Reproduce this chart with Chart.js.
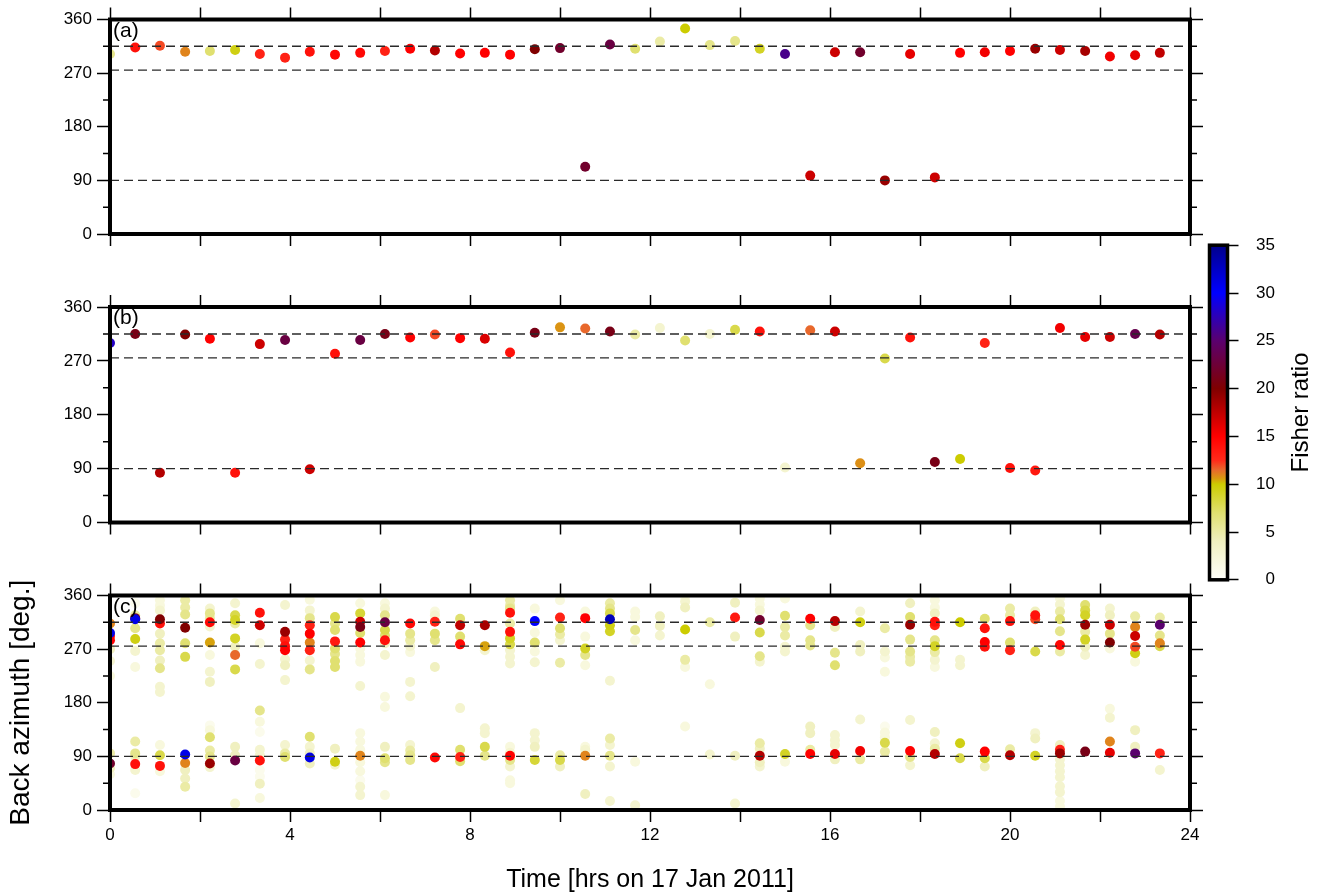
<!DOCTYPE html>
<html>
<head>
<meta charset="utf-8">
<script src="https://cdn.jsdelivr.net/npm/chart.js@4.4.0/dist/chart.umd.min.js"></script>
<style>
  html, body { margin: 0; padding: 0; background: #fff; }
  #wrap { position: relative; width: 1325px; height: 896px; overflow: hidden; }
  canvas { position: absolute; }
</style>
</head>
<body>
<div id="wrap">
  <canvas id="panelA" width="1210" height="262" style="left:0;top:0"></canvas>
  <canvas id="panelB" width="1210" height="262" style="left:0;top:280px"></canvas>
  <canvas id="panelC" width="1210" height="326" style="left:0;top:570px"></canvas>
  <canvas id="cbar" width="130" height="375" style="left:1195px;top:225px"></canvas>
</div>
<script>
// window centre times (hrs), one analysis window every ~33 min
const windowHours = [0, 0.56, 1.11, 1.67, 2.22, 2.78, 3.33, 3.89, 4.44, 5.0, 5.56, 6.11, 6.67, 7.22, 7.78,
  8.33, 8.89, 9.44, 10.0, 10.56, 11.11, 11.67, 12.22, 12.78, 13.33, 13.89, 14.44, 15.0, 15.56,
  16.11, 16.67, 17.22, 17.78, 18.33, 18.89, 19.44, 20.0, 20.56, 21.11, 21.67, 22.22, 22.78, 23.33];

// (a) back azimuth + Fisher ratio, one per window
const bazA = [302, 313, 316, 306, 307, 309, 302, 296, 306, 301, 304, 307, 311, 308, 303, 304, 301, 310,
  312, 113, 318, 311, 323, 345, 317, 324, 311, 302, 98, 305, 305, 90, 302, 95, 304, 305, 307, 311,
  309, 307, 298, 300, 304];
const fisherA = [6, 14, 12, 11, 7, 9.5, 13, 13, 14, 14.5, 14.5, 13, 15, 18, 15, 15, 15, 20, 22, 22, 23,
  7, 5, 10, 6, 6, 9, 26, 17, 17, 22, 19, 16, 17, 15, 15.5, 15, 19, 17, 18.5, 15.5, 16, 17.5];

// (b)
const bazB = [300, 315, 83, 314, 307, 83, 298, 305, 89, 282, 305, 315, 309, 314, 308, 307, 284, 317,
  326, 324, 319, 314, 325, 304, 315, 322, 319, 92, 321, 319, 99, 274, 309, 101, 106, 300, 91, 87,
  325, 310, 310, 315, 314];
const fisherB = [28, 21, 18, 20, 15, 14, 17, 23, 17, 14, 23, 21, 15, 12, 15, 16.5, 14, 21, 10.7, 11.5,
  21, 5, 3, 7, 3, 8, 14, 3, 11.5, 17, 10.8, 8, 14, 21, 10, 13, 14, 13.5, 15.5, 16, 17, 23.5, 18];

// (c) many estimates per window
const bazC = [
  [313, 297, 285, 292, 270, 250, 225, 78, 95, 70, 60],
  [347, 327, 320, 322, 305, 287, 267, 240, 115, 95, 90, 77, 67, 28],
  [352, 343, 335, 320, 313, 296, 280, 268, 251, 238, 207, 198, 109, 92, 74, 65],
  [352, 340, 328, 306, 280, 257, 93, 79, 67, 53, 39],
  [338, 330, 322, 315, 308, 281, 260, 232, 215, 142, 134, 122, 100, 90, 78, 72],
  [347, 327, 319, 313, 288, 274, 260, 236, 106, 92, 83, 11],
  [331, 310, 280, 245, 167, 148, 131, 101, 92, 83, 67, 56, 44, 20],
  [344, 299, 286, 275, 268, 253, 243, 218, 109, 95, 89],
  [353, 335, 322, 310, 296, 281, 268, 251, 236, 123, 106, 95, 88, 78],
  [324, 313, 302, 283, 271, 262, 250, 240, 103, 81, 76],
  [347, 330, 316, 307, 297, 281, 271, 260, 249, 208, 129, 115, 101, 91, 80, 65, 50, 39, 25],
  [347, 338, 327, 315, 302, 293, 285, 280, 260, 190, 173, 106, 87, 80, 25],
  [313, 296, 285, 275, 265, 215, 191, 109, 100, 92, 84],
  [333, 327, 316, 296, 285, 240, 88],
  [321, 310, 291, 278, 171, 101, 82, 89],
  [310, 275, 268, 137, 129, 106, 91],
  [352, 343, 338, 331, 313, 299, 288, 278, 268, 257, 246, 106, 96, 84, 73, 91, 50, 45],
  [338, 317, 298, 281, 266, 248, 129, 117, 106, 84],
  [352, 323, 305, 295, 285, 247, 92, 84, 73],
  [333, 322, 291, 271, 260, 243, 106, 101, 91, 27],
  [347, 338, 330, 320, 310, 300, 217, 120, 109, 91, 73, 15],
  [333, 324, 302, 285, 81, 8],
  [325, 309, 293],
  [358, 350, 340, 303, 252, 240, 140],
  [315, 211, 93],
  [348, 323, 291, 91, 11],
  [355, 345, 335, 319, 298, 258, 249, 112, 103, 80, 73, 91],
  [355, 326, 307, 293, 274, 266, 94, 81],
  [321, 310, 285, 276, 140, 129, 101, 94],
  [317, 307, 264, 243, 126, 117, 109, 94, 85],
  [333, 315, 277, 266, 152, 99, 85],
  [305, 266, 256, 232, 140, 130, 122, 113, 98],
  [347, 324, 311, 286, 266, 257, 249, 151, 99, 89, 75],
  [352, 340, 330, 316, 310, 285, 275, 265, 252, 240, 131, 112, 103, 94],
  [315, 252, 243, 112, 87],
  [321, 305, 282, 274, 98, 87, 73],
  [338, 327, 317, 281, 268, 102, 92],
  [333, 327, 320, 266, 129, 120, 91],
  [355, 345, 333, 320, 300, 277, 266, 109, 101, 95, 85, 75, 65, 55, 40, 30, 15, 6],
  [344, 335, 327, 311, 299, 286, 274, 260, 98],
  [338, 327, 311, 296, 281, 271, 170, 155, 115, 96],
  [325, 307, 292, 274, 263, 249, 134, 106, 95],
  [323, 311, 293, 280, 275, 95, 67]
];
const fisherC = [
  [11, 31, 15, 14, 4, 3, 2, 22, 5, 4, 2],
  [1, 5, 31, 21, 6, 9.5, 3, 2, 5, 6, 4, 14, 3, 1],
  [2, 2, 3, 20, 14, 4, 5, 5, 4, 6, 3, 3, 2, 8, 14, 2],
  [5, 5, 6, 20, 7, 8, 31, 11, 4, 4, 5],
  [3, 6, 5, 14.5, 3, 10.5, 2, 3, 4, 1, 2, 7, 5, 6, 19, 3],
  [3, 8, 9, 5, 9, 4, 11.5, 8, 4, 4, 23, 3],
  [14, 17, 2, 3, 6, 2, 1, 3, 3, 14, 1, 1, 4, 2],
  [3, 19, 13, 14, 15, 3, 4, 3, 3, 5, 7],
  [2, 3, 6, 13, 15, 11, 13, 3, 6, 7, 3, 4, 31, 4],
  [8, 6, 7, 13.5, 7, 6, 7, 7, 4, 9.5, 3],
  [2, 8.5, 17, 21, 7, 15, 2, 2, 2, 3, 2, 2, 2, 11, 2, 2, 1, 3, 3],
  [2, 3, 6, 23, 8, 7, 14, 4, 3, 2, 2, 4, 7, 6, 2],
  [14.5, 6, 5, 3, 2, 3, 3, 3, 5, 6, 6],
  [2, 3, 13, 7, 6, 4, 14.5],
  [7, 17.5, 7, 14.5, 3, 7, 7, 13],
  [18.5, 10.5, 3, 3, 3, 8, 6],
  [5, 5, 6, 14, 5, 14, 9, 8, 3, 3, 3, 2, 3, 6, 3, 15, 2, 2],
  [2, 30, 2, 7, 2, 3, 3, 3, 4, 8.5],
  [2, 13, 7, 5, 3, 5, 5, 8, 4],
  [2, 15, 2, 9, 6, 2, 2, 3, 11, 4],
  [5, 6, 8, 33, 9.5, 9, 3, 5, 3, 6, 3, 3],
  [2, 2, 6, 2, 2, 3],
  [4, 4, 3],
  [2, 3, 4, 10, 5, 2, 2],
  [5, 2, 3],
  [4, 13.5, 4, 4, 3],
  [2, 2, 3, 22, 8, 6, 3, 5, 4, 4, 3, 18],
  [2, 7, 5, 5, 3, 3, 9, 2],
  [15, 6, 6, 6, 4, 4, 5, 15],
  [18, 4, 6, 7, 3, 3, 3, 16, 4],
  [3, 9.5, 4, 4, 3, 15.5, 5],
  [5, 3, 2, 2, 1, 2, 2, 8, 5],
  [4, 7, 19, 6, 6, 5, 5, 3, 15, 6, 3],
  [2, 2, 4, 14, 13, 6, 9, 5, 3, 2, 4, 3, 5, 18],
  [10, 3, 3, 9.5, 8],
  [7, 14, 15, 14, 15, 8, 4],
  [5, 5, 14, 7, 13, 5, 18],
  [4, 14, 12, 8, 3, 4, 9],
  [2, 3, 5, 7, 6, 14.5, 5, 4, 13, 19, 3, 3, 3, 3, 3, 3, 2, 2],
  [7, 8, 9, 19, 5, 9, 4, 3, 21],
  [3, 4, 17, 6, 20, 2, 2, 3, 11, 16],
  [5, 11, 17, 12, 9.5, 2, 4, 4, 25],
  [5, 25, 6, 11, 8, 13, 3]
];

// dashed reference azimuths
const refBaz = [315, 275, 90];
const yMinorTicks = [45, 135, 225, 315];

// colour scale for Fisher ratio
const cmapStops = [0, 4, 7, 10, 10.6, 11.5, 12.5, 15, 20, 25, 30, 35];
const cmapColors = ['#fffffa', '#f0f0c0', '#e0e070', '#cccc00', '#d99a10', '#e8682c', '#ff2a1a',
  '#ff0000', '#800000', '#5a006e', '#0000ff', '#00008a'];

const FONT = "'Liberation Sans', Arial, Helvetica, sans-serif";
Chart.defaults.font.family = FONT;
Chart.defaults.color = '#000';

function hexRgb(h) {
  return [parseInt(h.substr(1, 2), 16), parseInt(h.substr(3, 2), 16), parseInt(h.substr(5, 2), 16)];
}

function fisherColor(f) {
  if (f <= cmapStops[0]) return cmapColors[0];
  for (let k = 1; k < cmapStops.length; k++) {
    if (f <= cmapStops[k]) {
      const t = (f - cmapStops[k - 1]) / (cmapStops[k] - cmapStops[k - 1]);
      const a = hexRgb(cmapColors[k - 1]), b = hexRgb(cmapColors[k]);
      const c = a.map((v, j) => Math.round(v + (b[j] - v) * t));
      return `rgb(${c[0]},${c[1]},${c[2]})`;
    }
  }
  return cmapColors[cmapColors.length - 1];
}

// frame, minor ticks and panel letter on top of the points
const framePlugin = {
  id: 'frame',
  afterDatasetsDraw(chart, args, opts) {
    const { ctx, chartArea: a, scales } = chart;
    ctx.save();
    ctx.strokeStyle = '#000';
    ctx.lineWidth = 1.5;
    yMinorTicks.forEach(v => {
      const y = scales.y.getPixelForValue(v);
      ctx.beginPath();
      ctx.moveTo(a.left - 7, y); ctx.lineTo(a.left, y);
      ctx.moveTo(a.right, y); ctx.lineTo(a.right + 7, y);
      ctx.stroke();
    });
    ctx.lineWidth = 4;
    ctx.strokeRect(a.left, a.top, a.right - a.left, a.bottom - a.top);
    ctx.fillStyle = '#000';
    ctx.font = '21px ' + FONT;
    ctx.textBaseline = 'top';
    ctx.textAlign = 'left';
    ctx.fillText(opts.label, a.left + 3, a.top + 1);
    ctx.restore();
  }
};

function tickGrid(len) {
  return { drawOnChartArea: false, drawTicks: true, tickLength: len, tickWidth: 1.5, tickColor: '#000' };
}

function makePanel(id, label, points, topH, bottomH, isLast) {
  points.sort((p, q) => p.f - q.f);
  const datasets = [{
    data: points,
    pointRadius: 5,
    pointHoverRadius: 5,
    pointBorderWidth: 0,
    backgroundColor: c => fisherColor(c.raw.f),
    clip: 0,
    order: 1
  }];
  refBaz.forEach(v => {
    datasets.push({
      data: [{ x: 0, y: v }, { x: 24, y: v }],
      showLine: true,
      pointRadius: 0,
      borderColor: '#2a2a2a',
      borderWidth: 1.4,
      borderDash: [9, 5],
      order: 0
    });
  });
  new Chart(document.getElementById(id), {
    type: 'scatter',
    data: { datasets },
    options: {
      responsive: false,
      animation: false,
      events: [],
      layout: { padding: 0 },
      plugins: { legend: { display: false }, tooltip: { enabled: false }, frame: { label } },
      scales: {
        x: {
          type: 'linear', position: 'bottom', min: 0, max: 24,
          ticks: {
            stepSize: 2, autoSkip: false, maxRotation: 0, padding: 3, font: { size: 17 },
            callback: v => (isLast && v % 4 === 0) ? String(v) : ''
          },
          grid: tickGrid(12),
          border: { display: false },
          title: {
            display: isLast, text: 'Time [hrs on 17 Jan 2011]', font: { size: 25 },
            padding: { top: 0, bottom: 1 }
          },
          afterFit: s => { s.height = bottomH; }
        },
        x2: {
          type: 'linear', position: 'top', min: 0, max: 24,
          ticks: { stepSize: 2, autoSkip: false, callback: () => '' },
          grid: tickGrid(12),
          border: { display: false },
          afterFit: s => { s.height = topH; }
        },
        y: {
          type: 'linear', position: 'left', min: 0, max: 360,
          ticks: { stepSize: 90, padding: 5, font: { size: 17 } },
          grid: tickGrid(13),
          border: { display: false },
          title: {
            display: isLast, text: 'Back azimuth [deg.]', font: { size: 28 },
            padding: { top: 4.7, bottom: 0 }
          },
          afterFit: s => { s.width = 110; }
        },
        y2: {
          type: 'linear', position: 'right', min: 0, max: 360,
          ticks: { stepSize: 90, callback: () => '' },
          grid: tickGrid(13),
          border: { display: false },
          afterFit: s => { s.width = 20; }
        }
      }
    },
    plugins: [framePlugin]
  });
}

const ptsA = bazA.map((b, i) => ({ x: windowHours[i], y: b, f: fisherA[i] }));
const ptsB = bazB.map((b, i) => ({ x: windowHours[i], y: b, f: fisherB[i] }));
const ptsC = [];
bazC.forEach((col, i) => col.forEach((b, j) => ptsC.push({ x: windowHours[i], y: b, f: fisherC[i][j] })));

makePanel('panelA', '(a)', ptsA, 19.5, 28, false);
makePanel('panelB', '(b)', ptsB, 27, 19.5, false);
makePanel('panelC', '(c)', ptsC, 25.5, 86, true);

// colour bar
const cbarPlugin = {
  id: 'cbarFrame',
  afterDatasetsDraw(chart) {
    const { ctx, chartArea: a } = chart;
    ctx.save();
    ctx.strokeStyle = '#000';
    ctx.lineWidth = 3.5;
    ctx.strokeRect(a.left, a.top, a.right - a.left, a.bottom - a.top);
    ctx.fillStyle = '#000';
    ctx.font = '24px ' + FONT;
    ctx.textAlign = 'center';
    ctx.textBaseline = 'middle';
    ctx.translate(106, (a.top + a.bottom) / 2);
    ctx.rotate(-Math.PI / 2);
    ctx.fillText('Fisher ratio', 0, 0);
    ctx.restore();
  }
};

new Chart(document.getElementById('cbar'), {
  type: 'bar',
  data: {
    labels: [''],
    datasets: [{
      data: [[0, 35]],
      barPercentage: 1,
      categoryPercentage: 1,
      borderWidth: 0,
      backgroundColor: c => {
        const a = c.chart.chartArea;
        if (!a) return '#fff';
        const g = c.chart.ctx.createLinearGradient(0, a.bottom, 0, a.top);
        cmapStops.forEach((v, k) => g.addColorStop(v / 35, cmapColors[k]));
        return g;
      }
    }]
  },
  options: {
    responsive: false,
    animation: false,
    events: [],
    layout: { padding: { left: 14.5, top: 17.5, bottom: 18.5, right: 50 } },
    plugins: { legend: { display: false }, tooltip: { enabled: false } },
    scales: {
      x: { display: false },
      y: {
        position: 'right', min: 0, max: 35,
        ticks: { stepSize: 5, crossAlign: 'far', padding: 10, font: { size: 17 } },
        grid: tickGrid(11),
        border: { display: false },
        afterFit: s => { s.width = 47.5; }
      }
    }
  },
  plugins: [cbarPlugin]
});
</script>
</body>
</html>
